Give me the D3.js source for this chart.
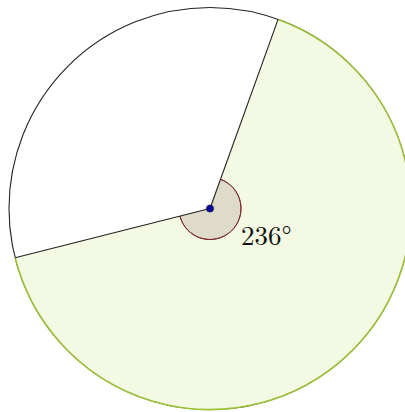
<!DOCTYPE html>
<html><head><meta charset="utf-8">
<script src="https://cdn.jsdelivr.net/npm/d3@7"></script>
<style>html,body{margin:0;padding:0;background:#fff;}svg{display:block;}</style>
</head><body>
<svg id="c" width="405" height="412"></svg>
<script>
const sectorAngle = [236];      // degrees
const startAngle = [19.8];      // degrees clockwise from 12 o'clock
const labels = ["236°"];

const W = 405, H = 412;
const cx = 210, cy = 208.5, R = 201, rMark = 31;
const svg = d3.select("#c");
const g = svg.append("g").attr("transform", `translate(${cx},${cy})`);
const rad = d3.scaleLinear().domain([0, 360]).range([0, 2 * Math.PI]);

const a0 = rad(startAngle[0]);
const a1 = rad(startAngle[0] + sectorAngle[0]);

// whole circle outline (black part)
g.append("circle").attr("r", R).attr("fill", "#fff").attr("stroke", "#222").attr("stroke-width", 1.1);

// shaded sector
g.append("path")
  .attr("d", d3.arc().innerRadius(0).outerRadius(R).startAngle(a0).endAngle(a1)())
  .attr("fill", "#f4f9e3").attr("stroke", "none");
// green arc outline
g.append("path")
  .attr("d", d3.arc().innerRadius(R).outerRadius(R).startAngle(a0).endAngle(a1)())
  .attr("fill", "none").attr("stroke", "#9cc23a").attr("stroke-width", 1.6);

// angle marker
g.append("path")
  .attr("d", d3.arc().innerRadius(0).outerRadius(rMark).startAngle(a0).endAngle(a1)())
  .attr("fill", "#dedbcb").attr("stroke", "none");
g.append("path")
  .attr("d", d3.arc().innerRadius(rMark).outerRadius(rMark).startAngle(a0).endAngle(a1)())
  .attr("fill", "none").attr("stroke", "#7a2a2a").attr("stroke-width", 1);

// radii
[a0, a1].forEach(a => {
  g.append("line").attr("x1", 0).attr("y1", 0)
    .attr("x2", R * Math.sin(a)).attr("y2", -R * Math.cos(a))
    .attr("stroke", "#222").attr("stroke-width", 1.1);
});

// center point
g.append("circle").attr("r", 3.6).attr("fill", "#0a0a9a").attr("stroke", "#000044").attr("stroke-width", 0.6);

// label
g.append("text").attr("x", 31).attr("y", 36)
  .attr("font-family", "'Latin Modern Roman','CMU Serif','Liberation Serif','DejaVu Serif',serif")
  .attr("font-size", 27).attr("fill", "#111")
  .text(labels[0]);
</script>
</body></html>
